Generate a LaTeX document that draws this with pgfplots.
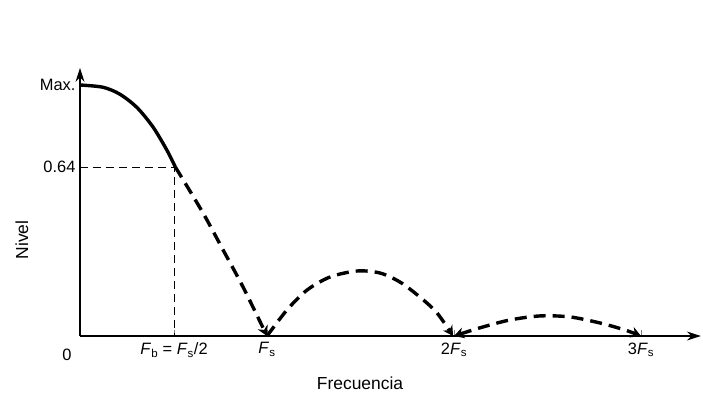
\documentclass[border=0pt]{standalone}
\usepackage{pgfplots}
\pgfplotsset{compat=1.18}
\usepackage{fontspec}
\setmainfont{Liberation Sans}
\usetikzlibrary{arrows.meta}

\begin{document}
\begin{tikzpicture}[x=1bp,y=1bp]
\useasboundingbox (-80,-60) rectangle (623,336);
\begin{axis}[
  anchor=origin, at={(0,0)},
  x=187bp, y=251bp,
  xmin=0, xmax=3.32, ymin=0, ymax=1.068,
  axis lines=left,
  x axis line style={line width=1.5bp, -{Stealth[length=14bp,width=9bp]}},
  y axis line style={line width=1.5bp, -{Stealth[length=14bp,width=9bp]}},
  xtick={0.503,1,2,3},
  xticklabels={{\textit{F}\textsubscript{b} = \textit{F}\textsubscript{s}/2},{\textit{F}\textsubscript{s}},{2\textit{F}\textsubscript{s}},{3\textit{F}\textsubscript{s}}},
  ytick={0.673,1},
  yticklabels={0.64,Max.},
  tick label style={font=\fontsize{16.5}{18}\selectfont},
  xticklabel style={yshift=-3bp},
  yticklabel style={xshift=-1bp},
  major tick length=6bp,
  tick align=inside,
  xtick style={line width=1bp},
  ytick style={draw=none},
  xlabel={Frecuencia},
  ylabel={Nivel},
  label style={font=\fontsize{17.5}{19}\selectfont},
  xlabel style={at={(rel axis cs:0.451,0)}, anchor=center, yshift=-47bp},
  ylabel style={at={(rel axis cs:0,0.358)}, anchor=center, yshift=58bp},
  clip=false,
]
% helper dashed lines
\addplot[line width=1bp, dash pattern=on 8bp off 5bp] coordinates {(0,0.673) (0.503,0.673) (0.503,0)};
% main lobe (solid)
\addplot[line width=3.4bp, smooth] coordinates {
  (0,1.0) (0.123,0.991) (0.214,0.963) (0.305,0.910) (0.390,0.833) (0.465,0.740) (0.51,0.673)};
% first lobe tail (dashed)
\addplot[line width=3.4bp, smooth, dash pattern=on 12bp off 7bp, -{Stealth[length=10bp,width=11bp]}] coordinates {
  (0.51,0.673) (0.658,0.490) (0.765,0.343) (0.872,0.195) (1.0,0)};
% second lobe
\addplot[line width=3.4bp, smooth, dash pattern=on 12bp off 7bp, -{Stealth[length=10bp,width=11bp]}] coordinates {
  (1.0,0) (1.107,0.104) (1.214,0.183) (1.337,0.235) (1.481,0.259) (1.604,0.251) (1.711,0.215) (1.818,0.155) (1.909,0.092) (1.995,0)};
% third lobe
\addplot[line width=3.4bp, smooth, dash pattern=on 12bp off 7bp, {Stealth[length=10bp,width=11bp]}-{Stealth[length=10bp,width=11bp]}] coordinates {
  (2.0,0) (2.155,0.036) (2.30,0.064) (2.46,0.080) (2.62,0.076) (2.78,0.052) (2.914,0.024) (3.0,0)};
\node[font=\fontsize{16.5}{18}\selectfont] at (axis cs:0,0) [xshift=-13bp, yshift=-19bp] {0};
\end{axis}
\end{tikzpicture}
\end{document}
